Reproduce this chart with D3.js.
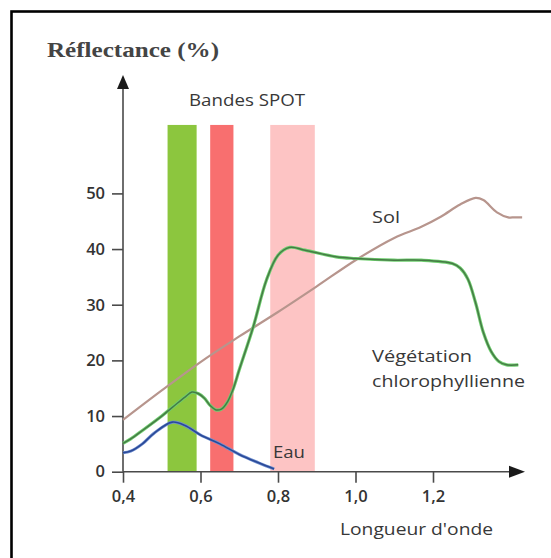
<!DOCTYPE html>
<html>
<head>
<meta charset="utf-8">
<script src="https://cdn.jsdelivr.net/npm/d3@7"></script>
<style>
  html, body { margin: 0; padding: 0; background: #fff; overflow: hidden; }
  svg { display: block; }
  .lbl { font-family: "Open Sans", sans-serif; fill: #383838; }
</style>
</head>
<body>
<svg id="chart" width="551" height="558"></svg>
<script>
// Spectral reflectance (%) against wavelength (µm)
const solWl  = [0.40, 0.50, 0.60, 0.70, 0.80, 0.90, 1.00, 1.10, 1.17, 1.22, 1.27, 1.31, 1.33, 1.365, 1.394, 1.41, 1.43];
const solVal = [9.3, 14.6, 19.7, 24.3, 28.7, 33.3, 38.0, 42.0, 44.0, 45.8, 48.0, 49.2, 48.8, 46.6, 45.7, 45.7, 45.7];

const vegWl  = [0.40, 0.42, 0.45, 0.50, 0.54, 0.56, 0.578, 0.595, 0.61, 0.625, 0.64, 0.655, 0.67, 0.685, 0.70, 0.736, 0.77, 0.80, 0.83, 0.87, 0.95, 1.00, 1.10, 1.17, 1.25, 1.27, 1.29, 1.31, 1.33, 1.35, 1.37, 1.39, 1.42];
const vegVal = [5.1, 5.9, 7.4, 10.0, 12.3, 13.4, 14.3, 14.0, 13.2, 11.9, 11.1, 11.3, 12.6, 15.0, 18.3, 26.0, 34.4, 38.9, 40.3, 39.8, 38.6, 38.3, 38.0, 38.0, 37.4, 36.6, 34.6, 30.3, 25.0, 21.6, 19.8, 19.2, 19.2];

const eauWl  = [0.40, 0.42, 0.45, 0.48, 0.527, 0.56, 0.60, 0.65, 0.70, 0.75, 0.79];
const eauVal = [3.4, 3.7, 5.0, 6.9, 8.9, 8.3, 6.6, 5.0, 3.1, 1.6, 0.5];

// SPOT spectral bands
const bandStart  = [0.515, 0.625, 0.78];
const bandEnd    = [0.59, 0.685, 0.895];
const bandTop    = 62.3;
const bandColors = ["#8cc63e", "#f86f6f", "#fdc4c4"];

const yTicks = [0, 10, 20, 30, 40, 50];
const xTicks = [0.4, 0.6, 0.8, 1.0, 1.2];

const svg = d3.select("#chart");

// outer frame
svg.append("rect")
  .attr("x", 11.5).attr("y", 11.5)
  .attr("width", 700).attr("height", 700)
  .attr("fill", "none").attr("stroke", "#000").attr("stroke-width", 2.6);

const x = d3.scaleLinear().domain([0.4, 1.2]).range([123, 433]);
const y = d3.scaleLinear().domain([0, 50]).range([471.7, 193.4]);

const frLocale = d3.formatLocale({ decimal: ",", thousands: " ", grouping: [3], currency: ["", " €"] });
const fmtX = frLocale.format(".1f");

// bands
svg.append("g").selectAll("rect")
  .data(bandStart)
  .join("rect")
  .attr("x", (d) => x(d))
  .attr("width", (d, i) => x(bandEnd[i]) - x(d))
  .attr("y", y(bandTop))
  .attr("height", y(0) - y(bandTop))
  .attr("fill", (d, i) => bandColors[i]);

// axes
const axisColor = "#4a4a4a";
const gy = svg.append("g").attr("transform", `translate(${x(0.4)},0)`)
  .call(d3.axisLeft(y).tickValues(yTicks).tickSize(11).tickPadding(7));
const gx = svg.append("g").attr("transform", `translate(0,${y(0)})`)
  .call(d3.axisBottom(x).tickValues(xTicks).tickSize(11).tickPadding(8).tickFormat(fmtX));
[gy, gx].forEach((g) => {
  g.select(".domain").remove();
  g.selectAll(".tick line").attr("stroke", axisColor).attr("stroke-width", 1.6);
  g.selectAll(".tick text")
    .attr("font-family", "'Open Sans', sans-serif")
    .attr("font-size", 16.5).attr("font-weight", 600).attr("fill", "#333");
});

// axis lines with arrowheads
const tipY = 75, tipX = 525;
svg.append("line").attr("x1", x(0.4)).attr("x2", x(0.4)).attr("y1", y(0)).attr("y2", tipY + 10)
  .attr("stroke", axisColor).attr("stroke-width", 1.6);
svg.append("line").attr("x1", x(0.4)).attr("x2", tipX - 10).attr("y1", y(0)).attr("y2", y(0))
  .attr("stroke", axisColor).attr("stroke-width", 1.6);
svg.append("path")
  .attr("d", `M${x(0.4)},${tipY} L${x(0.4) - 6},${tipY + 14} L${x(0.4) + 6},${tipY + 14} Z`)
  .attr("fill", "#1a1a1a");
svg.append("path")
  .attr("d", `M${tipX},${y(0)} L${tipX - 16},${y(0) - 6} L${tipX - 16},${y(0) + 6} Z`)
  .attr("fill", "#1a1a1a");

// curves
const line = d3.line().x((d) => x(d[0])).y((d) => y(d[1])).curve(d3.curveCatmullRom.alpha(0.5));
const sol = d3.zip(solWl, solVal);
const veg = d3.zip(vegWl, vegVal);
const eau = d3.zip(eauWl, eauVal);

svg.append("path").attr("d", line(sol)).attr("fill", "none")
  .attr("stroke", "#b7958d").attr("stroke-width", 2.2);
svg.append("path").attr("d", line(veg)).attr("fill", "none")
  .attr("stroke", "#6fcf6f").attr("stroke-width", 3.2);
svg.append("path").attr("d", line(veg)).attr("fill", "none")
  .attr("stroke", "#467a46").attr("stroke-width", 1.5);
svg.append("path").attr("d", line(eau)).attr("fill", "none")
  .attr("stroke", "#6f8fd0").attr("stroke-width", 3);
svg.append("path").attr("d", line(eau)).attr("fill", "none")
  .attr("stroke", "#2b4a98").attr("stroke-width", 1.6);

// texts
svg.append("text").attr("x", 47).attr("y", 57)
  .attr("font-family", "'Liberation Serif', 'Times New Roman', serif")
  .attr("font-weight", "bold").attr("font-size", 21).attr("fill", "#444")
  .attr("textLength", 172).attr("lengthAdjust", "spacingAndGlyphs")
  .text("Réflectance (%)");

const labels = [
  { t: "Bandes SPOT", x: 189, y: 106, w: 116 },
  { t: "Sol", x: 372, y: 223, w: 28 },
  { t: "Végétation", x: 372, y: 362, w: 100 },
  { t: "chlorophyllienne", x: 372, y: 387, w: 153 },
  { t: "Eau", x: 273, y: 458, w: 32 },
  { t: "Longueur d'onde", x: 340, y: 535, w: 153 }
];
svg.append("g").selectAll("text")
  .data(labels)
  .join("text")
  .attr("class", "lbl")
  .attr("x", (d) => d.x).attr("y", (d) => d.y)
  .attr("font-size", 17)
  .attr("textLength", (d) => d.w).attr("lengthAdjust", "spacingAndGlyphs")
  .text((d) => d.t);
</script>
</body>
</html>
